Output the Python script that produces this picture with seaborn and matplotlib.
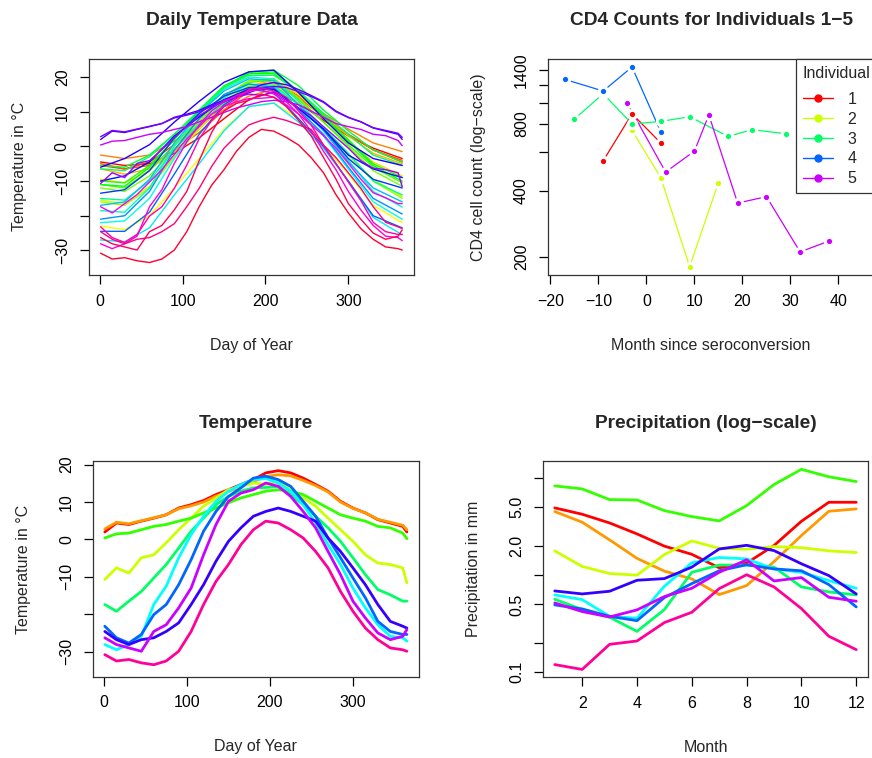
import colorsys
import pandas as pd
import seaborn as sns
import matplotlib.pyplot as plt
from matplotlib.lines import Line2D

# daily temperature, western / northern stations (read every ~15 days)
days_fine = [1, 15, 30, 45, 60, 75, 90, 105, 120, 135, 150, 165, 180,
             195, 210, 225, 240, 255, 270, 285, 300, 315, 330, 345, 360, 365]
vancouver = [2.0, 4.4, 4.0, 4.9, 5.7, 6.6, 8.4, 9.3, 10.4, 12.0, 13.3, 14.7, 16.0,
             17.8, 18.4, 17.8, 16.4, 14.7, 12.9, 10.2, 8.4, 7.1, 5.3, 4.4, 3.5, 2.0]
victoria = [2.8, 4.6, 4.2, 5.0, 5.8, 6.6, 8.2, 9.0, 10.0, 11.6, 12.8, 14.2, 15.5,
            16.8, 17.3, 17.0, 15.8, 14.4, 12.7, 10.0, 8.3, 7.1, 5.4, 4.6, 3.8, 2.6]
pr_george = [-10.7, -7.6, -9.0, -4.9, -4.1, -0.9, 2.6, 5.7, 8.9, 11.1, 13.3, 14.2, 15.1,
             14.7, 15.6, 13.3, 11.1, 8.9, 5.7, 2.6, -0.5, -4.1, -6.3, -6.7, -7.6, -11.6]
pr_rupert = [0.4, 1.5, 1.7, 2.6, 3.5, 4.0, 4.9, 5.7, 7.1, 8.4, 9.8, 11.1, 12.0,
             12.9, 13.3, 12.9, 12.0, 10.2, 8.4, 6.6, 5.7, 4.9, 3.5, 3.1, 1.7, 0.2]
whitehorse = [-17.4, -19.2, -16.5, -13.9, -10.3, -6.7, -2.3, 2.2, 5.7, 9.3, 11.5, 12.9, 13.8,
              13.9, 14.2, 12.0, 9.3, 6.2, 3.1, -0.5, -4.9, -9.4, -13.4, -14.8, -16.5, -16.5]
dawson = [-28.1, -29.5, -28.1, -25.9, -17.4, -12.5, -4.9, 1.3, 6.2, 10.2, 12.9, 14.7, 16.0,
          16.3, 15.1, 12.9, 9.3, 4.4, -1.4, -6.7, -13.0, -18.3, -22.8, -25.9, -26.3, -27.2]
yellowknife = [-23.2, -26.3, -27.7, -25.4, -20.1, -17.4, -12.1, -5.4, 2.2, 7.5, 11.5, 13.8, 16.4,
               16.9, 16.0, 14.2, 10.2, 6.2, 0.4, -4.9, -10.3, -15.6, -21.9, -24.6, -25.4, -25.4]
iqaluit = [-24.6, -26.8, -28.1, -26.8, -26.3, -24.6, -22.3, -17.4, -12.1, -5.8, -0.5, 3.1, 6.2,
           7.5, 8.4, 7.5, 6.2, 4.9, 0.4, -3.2, -7.6, -12.1, -17.4, -21.9, -23.2, -23.7]
inuvik = [-26.3, -28.1, -29.0, -29.9, -24.6, -22.8, -18.3, -13.0, -4.1, 4.0, 10.2, 12.4, 13.3,
          15.1, 14.2, 11.5, 7.5, 3.1, -3.2, -9.4, -16.5, -21.0, -25.0, -26.8, -25.9, -24.1]
resolute = [-30.8, -32.5, -32.1, -33.0, -33.5, -32.5, -29.9, -24.6, -17.4, -11.2, -6.7, -1.4, 2.6,
            4.9, 4.4, 2.6, 0.4, -3.2, -7.6, -13.9, -19.2, -23.7, -26.8, -29.0, -29.5, -29.9]

# daily temperature, the other 25 stations (read every ~30 days)
days_coarse = [1, 30, 60, 90, 120, 150, 180, 210, 240, 270, 300, 330, 365]
st_johns = [-4.5, -5.5, -5.0, -2.0, 2.5, 8.0, 13.5, 15.8, 12.5, 7.5, 3.0, -0.5, -3.5]
halifax = [-5.5, -6.5, -4.5, 0.5, 6.0, 12.0, 17.0, 18.5, 14.5, 9.0, 3.5, -1.0, -4.5]
sydney = [-5.0, -6.5, -5.5, -1.0, 4.0, 10.5, 16.0, 18.0, 14.0, 8.5, 3.5, -1.0, -4.0]
yarmouth = [-2.5, -3.5, -2.5, 1.5, 6.0, 10.5, 14.5, 16.5, 14.5, 9.5, 5.0, 1.0, -1.5]
charlottetown = [-6.5, -8.0, -6.5, -1.5, 5.0, 12.0, 17.5, 19.0, 15.0, 9.0, 3.0, -2.0, -5.0]
fredericton = [-9.5, -10.5, -7.0, 0.0, 7.5, 14.0, 18.5, 19.5, 15.0, 8.0, 1.5, -4.5, -8.5]
schefferville = [-23.0, -24.0, -20.0, -12.0, -3.5, 5.0, 11.5, 12.5, 8.0, 0.5, -8.0, -17.0, -22.0]
arvida = [-15.5, -16.5, -11.5, -3.0, 5.0, 13.0, 17.5, 18.0, 12.5, 5.5, -2.5, -9.5, -14.5]
bagottville = [-16.0, -17.0, -12.0, -3.0, 5.5, 13.0, 17.5, 18.0, 12.0, 5.5, -2.5, -10.0, -15.0]
quebec = [-12.0, -13.0, -8.5, -1.0, 7.0, 14.5, 19.0, 19.5, 14.0, 7.0, 0.0, -7.0, -11.5]
sherbrooke = [-11.0, -12.0, -7.0, 0.5, 8.0, 14.5, 18.5, 19.0, 13.5, 7.0, 0.5, -6.0, -10.5]
montreal = [-10.0, -10.5, -5.5, 2.0, 10.0, 17.0, 21.0, 21.5, 16.0, 9.0, 2.0, -5.0, -9.0]
ottawa = [-11.0, -11.5, -6.0, 2.0, 10.5, 17.5, 21.0, 21.0, 15.5, 8.5, 1.5, -5.5, -10.0]
toronto = [-5.5, -6.0, -2.5, 3.5, 10.0, 17.0, 21.5, 22.0, 17.5, 10.5, 4.5, -1.0, -4.5]
london = [-6.5, -7.0, -3.0, 3.5, 10.5, 17.0, 20.5, 20.5, 16.0, 9.5, 3.5, -2.5, -5.5]
thunder_bay = [-15.0, -15.5, -10.0, -1.0, 6.5, 12.5, 17.0, 17.5, 12.0, 5.5, -2.0, -10.0, -14.0]
winnipeg = [-18.5, -19.0, -12.0, 0.0, 9.5, 16.5, 20.0, 19.5, 13.0, 5.0, -4.0, -13.0, -17.5]
the_pas = [-22.0, -21.5, -15.0, -3.5, 6.5, 14.0, 18.0, 17.5, 11.0, 3.0, -6.5, -16.0, -21.0]
churchill = [-27.0, -27.5, -23.5, -14.0, -5.0, 4.5, 11.5, 12.5, 7.0, -0.5, -10.0, -20.5, -25.5]
regina = [-17.0, -16.0, -9.5, 1.0, 9.5, 16.0, 19.5, 19.0, 12.0, 4.5, -4.5, -12.0, -16.0]
pr_albert = [-21.0, -20.0, -13.0, -1.0, 8.0, 15.0, 18.0, 17.0, 10.5, 3.5, -6.0, -15.0, -19.5]
uranium_city = [-24.5, -24.5, -19.0, -8.0, 3.5, 12.0, 16.5, 15.5, 8.0, 0.0, -10.0, -20.0, -23.5]
edmonton = [-13.5, -12.5, -7.0, 2.5, 9.5, 14.5, 17.0, 16.5, 11.0, 5.0, -3.5, -9.5, -12.0]
calgary = [-10.0, -8.5, -4.5, 3.0, 8.5, 13.5, 16.5, 16.5, 11.0, 5.0, -2.5, -6.5, -9.0]
kamloops = [-6.0, -3.5, 0.5, 7.0, 13.0, 18.5, 21.5, 22.0, 15.5, 8.0, 1.0, -3.5, -5.5]

# CD4 counts
cd4_month_1 = [-9, -3, 3]
cd4_count_1 = [545, 890, 656]
cd4_month_2 = [-3, 3, 9, 15]
cd4_count_2 = [749, 457, 181, 434]
cd4_month_3 = [-15, -9, -3, 3, 9, 17, 22, 29]
cd4_count_3 = [842, 1097, 800, 822, 863, 703, 754, 723]
cd4_month_4 = [-17, -9, -3, 3]
cd4_count_4 = [1274, 1128, 1449, 736]
cd4_month_5 = [-4, 4, 10, 13, 19, 25, 32, 38]
cd4_count_5 = [993, 485, 603, 879, 351, 375, 211, 236]

# monthly precipitation (mm/day), same 10 stations as the lower-left panel
months = [1, 2, 3, 4, 5, 6, 7, 8, 9, 10, 11, 12]
prec_vancouver = [4.93, 4.24, 3.45, 2.66, 1.99, 1.64, 1.19, 1.33, 2.02, 3.59, 5.63, 5.63]
prec_victoria = [4.52, 3.51, 2.31, 1.49, 1.10, 0.915, 0.631, 0.781, 1.38, 2.56, 4.55, 4.81]
prec_pr_george = [1.78, 1.23, 1.04, 1.00, 1.63, 2.25, 1.89, 1.85, 1.97, 1.92, 1.78, 1.71]
prec_pr_rupert = [8.30, 7.73, 6.00, 5.95, 4.62, 4.01, 3.62, 5.20, 8.57, 12.3, 10.3, 9.20]
prec_whitehorse = [0.565, 0.442, 0.369, 0.264, 0.442, 1.07, 1.27, 1.27, 1.21, 0.757, 0.672, 0.626]
prec_dawson = [0.626, 0.560, 0.377, 0.360, 0.769, 1.34, 1.52, 1.47, 1.16, 1.07, 0.879, 0.733]
prec_yellowknife = [0.494, 0.449, 0.377, 0.340, 0.588, 0.819, 1.11, 1.28, 1.16, 1.11, 0.80, 0.471]
prec_iqaluit = [0.688, 0.641, 0.683, 0.886, 0.922, 1.21, 1.86, 2.03, 1.79, 1.31, 0.990, 0.641]
prec_inuvik = [0.518, 0.422, 0.371, 0.439, 0.602, 0.733, 1.07, 1.44, 0.872, 0.944, 0.592, 0.539]
prec_resolute = [0.120, 0.107, 0.194, 0.210, 0.325, 0.415, 0.727, 1.01, 0.757, 0.453, 0.235, 0.171]

east = [st_johns, halifax, sydney, yarmouth, charlottetown, fredericton, schefferville,
        arvida, bagottville, quebec, sherbrooke, montreal, ottawa, toronto, london,
        thunder_bay, winnipeg, the_pas, churchill, regina, pr_albert, uranium_city,
        edmonton, calgary, kamloops]
west = [vancouver, victoria, pr_george, pr_rupert, whitehorse, dawson,
        yellowknife, iqaluit, inuvik, resolute]
precip = [prec_vancouver, prec_victoria, prec_pr_george, prec_pr_rupert, prec_whitehorse,
          prec_dawson, prec_yellowknife, prec_iqaluit, prec_inuvik, prec_resolute]
cd4 = [(cd4_month_1, cd4_count_1), (cd4_month_2, cd4_count_2), (cd4_month_3, cd4_count_3),
       (cd4_month_4, cd4_count_4), (cd4_month_5, cd4_count_5)]


def rainbow(n):
    # same hues as R's rainbow()
    return [colorsys.hsv_to_rgb(i / n, 1, 1) for i in range(n)]


def long_df(xs_list, ys_list, xname, yname):
    rows = []
    for k, (xs, ys) in enumerate(zip(xs_list, ys_list)):
        for x, y in zip(xs, ys):
            rows.append({"id": k, xname: x, yname: y})
    return pd.DataFrame(rows)


sns.set_theme(style="white")
plt.rcParams["font.family"] = ["Liberation Sans", "DejaVu Sans"]
FS = 11.5

W, H = 872, 758
fig = plt.figure(figsize=(W / 100, H / 100), dpi=100)


def add_ax(left, top, right, bottom):
    return fig.add_axes([left / W, 1 - bottom / H, (right - left) / W, (bottom - top) / H])


def r_style(ax, title, xlabel, ylabel, left, top, right, bottom):
    for s in ax.spines.values():
        s.set_color("#333333")
        s.set_linewidth(0.9)
        s.set_visible(True)
    ax.tick_params(direction="out", length=6.5, width=0.9, colors="black",
                   labelsize=FS, pad=7, bottom=True, left=True)
    for lab in ax.get_yticklabels():
        lab.set_rotation(90)
        lab.set_va("center")
    h, w = bottom - top, right - left
    ax.set_title(title, fontsize=FS * 1.2, fontweight="bold", y=1 + 38 / h, pad=0, va="center")
    ax.set_xlabel(xlabel, fontsize=FS)
    ax.set_ylabel(ylabel, fontsize=FS)
    ax.xaxis.set_label_coords(0.5, -70 / h)
    ax.yaxis.set_label_coords(-69 / w, 0.5)
    ax.xaxis.label.set_va("center")
    ax.yaxis.label.set_va("center")
    ax.grid(False)


temp_ticks = [-30, -20, -10, 0, 10, 20]
temp_labels = ["\u221230", "", "\u221210", "0", "10", "20"]
day_ticks = [0, 100, 200, 300]

# --- Daily Temperature Data (all 35 stations)
box1 = (88.5, 58.7, 414.3, 275)
ax1 = add_ax(*box1)
df1 = long_df([days_coarse] * len(east) + [days_fine] * len(west), east + west, "day", "temp")
sns.lineplot(data=df1, x="day", y="temp", hue="id", palette=rainbow(35), legend=False,
             estimator=None, sort=False, linewidth=1, ax=ax1)
ax1.set_xlim(-13.6, 379.6)
ax1.set_ylim(-37.1, 25.3)
ax1.set_xticks(day_ticks, [str(d) for d in day_ticks])
ax1.set_yticks(temp_ticks, temp_labels)
r_style(ax1, "Daily Temperature Data", "Day of Year", "Temperature in \u00b0C", *box1)

# --- CD4 counts
box2 = (547.5, 58.7, 874.5, 275)
ax2 = add_ax(*box2)
cols5 = rainbow(5)
for k, (m, c) in enumerate(cd4):
    d = pd.DataFrame({"month": m, "count": c})
    sns.lineplot(data=d, x="month", y="count", color=cols5[k], linewidth=0.9,
                 estimator=None, sort=False, ax=ax2)
    sns.scatterplot(data=d, x="month", y="count", color=cols5[k], s=36,
                    edgecolor="white", linewidth=2.2, zorder=3, ax=ax2)
ax2.set_yscale("log")
ax2.set_xlim(-20.6, 47.5)
ax2.set_ylim(165.8, 1580)
ax2.set_xticks([-20, -10, 0, 10, 20, 30, 40],
               ["\u221220", "\u221210", "0", "10", "20", "30", "40"])
ax2.set_yticks([200, 400, 600, 800, 1000, 1200, 1400],
               ["200", "400", "", "800", "", "", "1400"])
ax2.yaxis.set_minor_locator(plt.NullLocator())
r_style(ax2, "CD4 Counts for Individuals 1\u22125", "Month since seroconversion",
        "CD4 cell count (log\u2212scale)", *box2)
handles = [Line2D([0], [0], color=cols5[k], lw=1, marker="o", markersize=5)
           for k in range(5)]
leg = fig.legend(handles, ["1", "2", "3", "4", "5"], title="Individual",
                 loc="upper left", bbox_to_anchor=(795.7 / W, 1 - 58.7 / H),
                 borderaxespad=0, fontsize=FS, title_fontsize=FS, frameon=True,
                 fancybox=False, edgecolor="#333333", framealpha=1, borderpad=0.45,
                 labelspacing=0.3, handlelength=1.9, handletextpad=0.9, alignment="left")
leg.get_frame().set_linewidth(0.9)
leg._legend_box.sep = 0.7 * FS  # a bit more room under the title, as in R

# --- Temperature (10 stations)
box3 = (92.7, 461.3, 419, 676.7)
ax3 = add_ax(*box3)
df3 = long_df([days_fine] * len(west), west, "day", "temp")
sns.lineplot(data=df3, x="day", y="temp", hue="id", palette=rainbow(10), legend=False,
             estimator=None, sort=False, linewidth=2, ax=ax3)
ax3.set_xlim(-13.6, 379.6)
ax3.set_ylim(-36.7, 20.9)
ax3.set_xticks(day_ticks, [str(d) for d in day_ticks])
ax3.set_yticks(temp_ticks, temp_labels)
r_style(ax3, "Temperature", "Day of Year", "Temperature in \u00b0C", *box3)

# --- Precipitation (log-scale)
box4 = (542.7, 461, 868.3, 677.3)
ax4 = add_ax(*box4)
df4 = long_df([months] * len(precip), precip, "month", "prec")
sns.lineplot(data=df4, x="month", y="prec", hue="id", palette=rainbow(10), legend=False,
             estimator=None, sort=False, linewidth=2, ax=ax4)
ax4.set_yscale("log")
ax4.set_xlim(0.56, 12.44)
ax4.set_ylim(0.0888, 14.98)
ax4.set_xticks([2, 4, 6, 8, 10, 12], ["2", "4", "6", "8", "10", "12"])
ax4.set_yticks([0.1, 0.2, 0.5, 1, 2, 5, 10], ["0.1", "", "0.5", "", "2.0", "5.0", ""])
ax4.yaxis.set_minor_locator(plt.NullLocator())
r_style(ax4, "Precipitation (log\u2212scale)", "Month", "Precipitation in mm", *box4)

fig.savefig("out.png", dpi=100)
